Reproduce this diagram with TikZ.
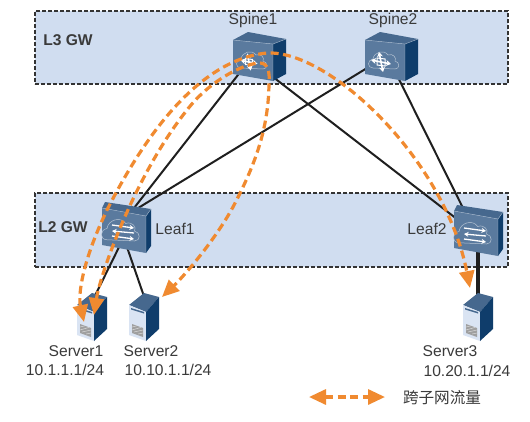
\documentclass[tikz,border=0pt]{standalone}
\usepackage{fontspec}
\setmainfont{Liberation Sans}
\newfontfamily\cjk{Noto Sans CJK SC}
\usetikzlibrary{arrows.meta}
\usetikzlibrary{shapes}
\definecolor{panelBlue}{HTML}{D0DDF0}
\definecolor{faceBlue}{HTML}{5A7A9E}
\definecolor{topBlue}{HTML}{46688E}
\definecolor{sideBlue}{HTML}{0F3D6B}
\definecolor{flowOrange}{HTML}{F08A30}
\definecolor{textGray}{HTML}{3A3A3A}
\tikzset{
	pics/cloudmark/.style = {code = {
		\draw[draw = white!55!faceBlue, line width = 0.5pt] (-12,7) .. controls (-18,7) and (-18,-1) .. (-12,-2) .. controls (-11,-9) and (-1,-12) .. (3,-6) .. controls (8,-8) and (12,-3) .. (10,0) .. controls (15,1) and (15,8) .. (10,8) -- cycle;
	}},
	pics/boxbody/.style = {code = {
		\fill[topBlue] (-26,-18) -- (-11,-26) -- (27,-19) -- (14,-14) -- cycle;
		\fill[faceBlue] (-26,-18) -- (14,-14) -- (14,23) -- (-26,16) -- cycle;
		\fill[sideBlue] (14,-14) -- (27,-19) -- (27,16) -- (14,23) -- cycle;
		\draw[draw = white!45!faceBlue, line width = 0.4pt] (-26,-18) -- (14,-14) -- (27,-19) (14,-14) -- (14,23);
	}},
	pics/crossmark/.style = {code = {
		\draw[white, line width = 1.6pt, {Stealth[length=5pt, width=6pt]}-{Stealth[length=5pt, width=6pt]}] (-10,-2) -- (10,2);
		\draw[white, line width = 1.6pt, {Stealth[length=5pt, width=6pt]}-{Stealth[length=5pt, width=6pt]}] (-2,-10) -- (2,10);
		\draw[white, line width = 1pt] (-4,-4) -- (4,-3) -- (4,4) -- (-4,3) -- cycle;
	}},
	pics/leafbody/.style = {code = {
		\fill[topBlue] (-24,-21) -- (-21,-27) -- (25,-20) -- (20,-13) -- cycle;
		\fill[faceBlue] (-24,-21) -- (20,-13) -- (20,24) -- (-24,16) -- cycle;
		\fill[sideBlue] (20,-13) -- (25,-20) -- (25,17) -- (20,24) -- cycle;
		\draw[draw = white!45!faceBlue, line width = 0.4pt] (-24,-21) -- (20,-13) -- (25,-20) (20,-13) -- (20,24);
		\pic at (-4,2) [scale = 1.25] {cloudmark};
		\draw[white, line width = 1.3pt, -{Stealth[length=4.5pt, width=5pt]}] (-14,-4) -- (8,-1);
		\draw[white, line width = 1.3pt, {Stealth[length=4.5pt, width=5pt]}-] (-14,2) -- (8,4);
		\draw[white, line width = 1.3pt, -{Stealth[length=4.5pt, width=5pt]}] (-14,7) -- (8,10);
	}},
	pics/serverbody/.style = {code = {
		\fill[topBlue] (-15,-12) -- (0,-24) -- (15,-20) -- (2,-5) -- cycle;
		\fill[panelBlue!80!white] (-15,-12) -- (2,-5) -- (2,24) -- (-15,18) -- cycle;
		\fill[sideBlue] (2,-5) -- (15,-20) -- (15,12) -- (2,24) -- cycle;
		\fill[topBlue] (-13,-9) -- (0,-5) -- (0,-3.5) -- (-13,-7.5) -- cycle;
		\fill[gray!75] (-12,7) -- (-1,11) -- (-1,20) -- (-12,16) -- cycle;
		\draw[white!70!gray, line width = 0.5pt] (-12,10) -- (-7,8.8) (-12,13) -- (-3,10.4) (-10,15) -- (-1,13) (-6,17) -- (-1,16);
	}}
}
\begin{document}
\begin{tikzpicture}[x = 1pt, y = -1pt, font = \fontsize{15.6}{18}\selectfont, text = textGray]
	\tikzstyle{panelStyle} = [fill = panelBlue, draw = black!80, line width = 1.8pt, dash pattern = on 4pt off 2pt]
	\tikzstyle{boxStyle} = [shape = rectangle, minimum width = 30pt, minimum height = 30pt, inner sep = 0pt]
	\tikzstyle{serverStyle} = [shape = rectangle, minimum width = 16pt, minimum height = 30pt, inner sep = 0pt]
	\tikzstyle{linkStyle} = [draw = black!88, line width = 2pt]
	\tikzstyle{flowStyle} = [draw = flowOrange, line width = 3.2pt, dash pattern = on 8pt off 4.5pt, {Triangle[length = 17pt, width = 15pt, fill = flowOrange]}-{Triangle[length = 17pt, width = 15pt, fill = flowOrange]}]
	\useasboundingbox (0,0) rectangle (530,421);
	\fill[white] (0,0) rectangle (530,421);
	\node[panelStyle, shape = rectangle, minimum width = 473pt, minimum height = 73pt, inner sep = 0pt] (l3gw) at (271.5,47.5) {};
	\node[panelStyle, shape = rectangle, minimum width = 473pt, minimum height = 74pt, inner sep = 0pt] (l2gw) at (271.5,230) {};
	\node[boxStyle] (spine1) at (259,58) {};
	\node[boxStyle] (spine2) at (391,58) {};
	\node[boxStyle] (leaf1) at (126,229) {};
	\node[boxStyle] (leaf2) at (478,232) {};
	\node[serverStyle] (server1) at (92,317) {};
	\node[serverStyle] (server2) at (144,317) {};
	\node[serverStyle] (server3) at (478,317) {};
	\draw[linkStyle] (spine1.212) -- (leaf1.77);
	\draw[linkStyle] (spine1.-59) -- (leaf2.151);
	\draw[linkStyle] (spine2.197) -- (leaf1.80);
	\draw[linkStyle] (spine2.-72) -- (leaf2.125);
	\draw[linkStyle] (leaf1.-110) -- (server1.north);
	\draw[linkStyle] (leaf1.south) -- (server2.83);
	\draw[linkStyle, line width = 3.2pt] (leaf2.south) -- (server3.north);
	\pic at (spine1) {boxbody};
	\pic at (spine2) {boxbody};
	\pic at (253,61) {cloudmark};
	\pic at (385,61) {cloudmark};
	\pic at (249,62) [scale = 0.85] {crossmark};
	\pic at (381,62) {crossmark};
	\pic at (leaf1) {leafbody};
	\pic at (leaf2) {leafbody};
	\pic at (server1) {serverbody};
	\pic at (server2) {serverbody};
	\pic at (server3) {serverbody};
	\coordinate (tipOuter) at (84,322);
	\coordinate (tipInner) at (94,315);
	\coordinate (tipServer2) at (162,297);
	\coordinate (tipServer3) at (470,288);
	\coordinate (legendLeft) at (309,397);
	\coordinate (legendRight) at (385,397);
	\draw[flowStyle] (tipOuter) .. controls (78,295) and (82,262) .. (107,210) .. controls (140,145) and (195,60) .. (267,53) .. controls (330,50) and (445,160) .. (tipServer3);
	\draw[flowStyle] (tipInner) .. controls (100,275) and (135,175) .. (187,110) .. controls (210,80) and (245,63) .. (260,63) .. controls (268,63) and (270,72) .. (269,85) .. controls (268,130) and (255,165) .. (233,207) .. controls (215,240) and (185,275) .. (tipServer2);
	\draw[flowStyle] (legendLeft) -- (legendRight);
	\node (l3text) at (68,40) {\bfseries L3 GW};
	\node (l2text) at (63,227) {\bfseries L2 GW};
	\node (spine1text) at (253,20) {Spine1};
	\node (spine2text) at (393,20) {Spine2};
	\node (leaf1text) at (175,229) {Leaf1};
	\node (leaf2text) at (427,229) {Leaf2};
	\node (server1text) at (76,351) {Server1};
	\node (server2text) at (151,351) {Server2};
	\node (server3text) at (450,351) {Server3};
	\node (ip1text) at (65,370) {10.1.1.1/24};
	\node (ip2text) at (168,370) {10.10.1.1/24};
	\node (ip3text) at (467,371) {10.20.1.1/24};
	\node (legendtext) at (442,398) {\cjk 跨子网流量};
\end{tikzpicture}
\end{document}
